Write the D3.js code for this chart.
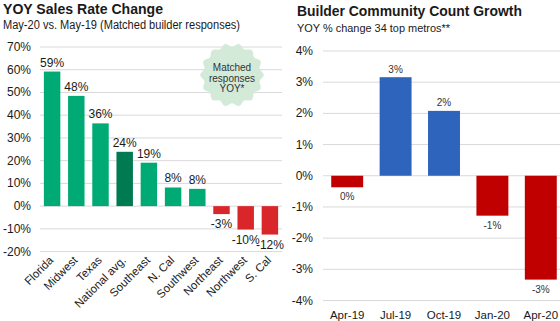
<!DOCTYPE html>
<html>
<head>
    <meta charset="UTF-8">
    <script src="https://d3js.org/d3.v7.min.js"></script>
    <style>
        body { margin: 0; background: #fff; }
        text { font-family: Arial, "Liberation Sans", sans-serif; fill: #1a1a1a; }
    </style>
</head>
<body>
    <svg id="chart" width="560" height="321"></svg>

    <script>
        // venstre graf: salg
        const regioner = ['Florida', 'Midwest', 'Texas', 'National avg.', 'Southeast', 'N. Cal', 'Southwest', 'Northeast', 'Northwest', 'S. Cal'];
        const salgVaerdier = [59.2, 48.5, 36.4, 23.9, 19.1, 8.2, 7.6, -3.5, -10.3, -12.5];
        const salgEtiketter = ['59%', '48%', '36%', '24%', '19%', '8%', '8%', '-3%', '-10%', '-12%'];
        const salgTicks = [70, 60, 50, 40, 30, 20, 10, 0, -10, -20];

        // højre graf: community count
        const kvartaler = ['Apr-19', 'Jul-19', 'Oct-19', 'Jan-20', 'Apr-20'];
        const antalVaerdier = [-0.37, 3.16, 2.08, -1.28, -3.33];
        const antalEtiketter = ['0%', '3%', '2%', '-1%', '-3%'];
        const antalTicks = [4, 3, 2, 1, 0, -1, -2, -3, -4];

        const svg = d3.select('#chart');

        // ---------- venstre ----------
        const xV = d3.scaleBand().domain(regioner).range([40, 282]).paddingInner(0.32).paddingOuter(0.16);
        const yV = d3.scaleLinear().domain([-20, 70]).range([251.6, 47]);

        svg.append('text').attr('x', 3).attr('y', 13.5)
            .attr('textLength', 160).attr('lengthAdjust', 'spacingAndGlyphs')
            .style('font-size', '14px').style('font-weight', 'bold')
            .text('YOY Sales Rate Change');
        svg.append('text').attr('x', 3).attr('y', 29)
            .attr('textLength', 237).attr('lengthAdjust', 'spacingAndGlyphs')
            .style('font-size', '12px')
            .text('May-20 vs. May-19 (Matched builder responses)');

        const venstre = svg.append('g');
        venstre.selectAll('line.grid').data(salgTicks).join('line')
            .attr('class', 'grid')
            .attr('x1', 40).attr('x2', 282)
            .attr('y1', d => yV(d)).attr('y2', d => yV(d))
            .style('stroke', '#d9d9d9').style('stroke-width', 1);
        venstre.selectAll('text.ytick').data(salgTicks).join('text')
            .attr('class', 'ytick')
            .attr('x', 31).attr('y', d => yV(d) + 4)
            .attr('text-anchor', 'end')
            .style('font-size', '12px')
            .text(d => d + '%');

        // badge bag søjlerne
        const badgeX = 232, badgeY = 75, antalTakker = 14;
        const badgePunkter = d3.range(antalTakker * 8).map(i => {
            const a = i / (antalTakker * 8) * Math.PI * 2;
            const r = 30 + 1.8 * Math.cos(a * antalTakker);
            return [badgeX + r * Math.cos(a), badgeY + r * Math.sin(a)];
        });
        venstre.append('path')
            .attr('d', d3.line().curve(d3.curveLinearClosed)(badgePunkter))
            .style('fill', '#d3ead9');
        ['Matched', 'responses', 'YOY*'].forEach((t, i) => {
            venstre.append('text').attr('x', badgeX).attr('y', 71 + i * 10.5)
                .attr('text-anchor', 'middle')
                .style('font-size', '10px').style('fill', '#333')
                .text(t);
        });

        venstre.selectAll('rect').data(salgVaerdier).join('rect')
            .attr('x', (d, i) => xV(regioner[i]))
            .attr('width', xV.bandwidth())
            .attr('y', d => yV(Math.max(d, 0)))
            .attr('height', d => Math.abs(yV(d) - yV(0)))
            .style('fill', (d, i) => d < 0 ? '#d9262b' : (regioner[i] === 'National avg.' ? '#007a50' : '#00aa74'));

        venstre.selectAll('text.label').data(salgVaerdier).join('text')
            .attr('class', 'label')
            .attr('x', (d, i) => xV(regioner[i]) + xV.bandwidth() / 2)
            .attr('y', d => d >= 0 ? yV(d) - 5 : yV(d) + 14)
            .attr('text-anchor', 'middle')
            .style('font-size', '12px')
            .text((d, i) => salgEtiketter[i]);

        venstre.selectAll('text.xtick').data(regioner).join('text')
            .attr('class', 'xtick')
            .attr('transform', d => 'translate(' + (xV(d) + xV.bandwidth() / 2 + 2) + ',261) rotate(-45)')
            .attr('text-anchor', 'end')
            .style('font-size', '11.5px')
            .text(d => d);

        // ---------- højre ----------
        const xH = d3.scaleBand().domain(kvartaler).range([323, 565]).paddingInner(0.34).paddingOuter(0.17);
        const yH = d3.scaleLinear().domain([-4, 4]).range([300.5, 51]);

        svg.append('text').attr('x', 297).attr('y', 16)
            .attr('textLength', 225).attr('lengthAdjust', 'spacingAndGlyphs')
            .style('font-size', '14.5px').style('font-weight', 'bold')
            .text('Builder Community Count Growth');
        svg.append('text').attr('x', 297).attr('y', 32)
            .attr('textLength', 153).attr('lengthAdjust', 'spacingAndGlyphs')
            .style('font-size', '11.5px')
            .text('YOY % change 34 top metros**');

        const hoejre = svg.append('g');
        hoejre.selectAll('line').data(antalTicks).join('line')
            .attr('x1', 323).attr('x2', 560)
            .attr('y1', d => yH(d)).attr('y2', d => yH(d))
            .style('stroke', '#d9d9d9').style('stroke-width', 1);
        hoejre.selectAll('text.ytick').data(antalTicks).join('text')
            .attr('class', 'ytick')
            .attr('x', 313).attr('y', d => yH(d) + 4)
            .attr('text-anchor', 'end')
            .style('font-size', '12px')
            .text(d => d + '%');

        hoejre.selectAll('rect').data(antalVaerdier).join('rect')
            .attr('x', (d, i) => xH(kvartaler[i]))
            .attr('width', xH.bandwidth())
            .attr('y', d => yH(Math.max(d, 0)))
            .attr('height', d => Math.abs(yH(d) - yH(0)))
            .style('fill', d => d < 0 ? '#c00000' : '#2e64bc');

        hoejre.selectAll('text.label').data(antalVaerdier).join('text')
            .attr('class', 'label')
            .attr('x', (d, i) => xH(kvartaler[i]) + xH.bandwidth() / 2)
            .attr('y', d => d >= 0 ? yH(d) - 4.5 : yH(d) + 13)
            .attr('text-anchor', 'middle')
            .style('font-size', '10px').style('fill', '#333')
            .text((d, i) => antalEtiketter[i]);

        hoejre.selectAll('text.xtick').data(kvartaler).join('text')
            .attr('class', 'xtick')
            .attr('x', d => xH(d) + xH.bandwidth() / 2)
            .attr('y', 319)
            .attr('text-anchor', 'middle')
            .style('font-size', '11.5px')
            .text(d => d);
    </script>
</body>
</html>
